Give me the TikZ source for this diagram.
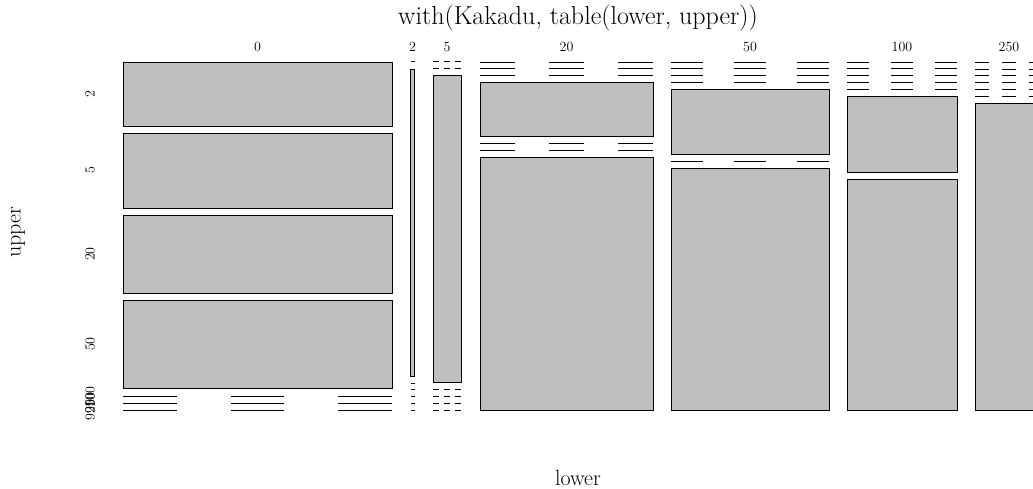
\documentclass[tikz,border=0pt]{standalone}
\usetikzlibrary{positioning}
\definecolor{mosaicgray}{RGB}{190,190,190}
\tikzset{filled cell/.style={draw=black,fill=mosaicgray,line width=0.9pt},}
\tikzset{empty cell/.style={draw=black,line width=0.9pt},}
\tikzset{tick label/.style={font=\fontsize{14}{14}\selectfont,inner sep=0pt},}
\tikzset{axis title/.style={font=\fontsize{22}{22}\selectfont,inner sep=0pt},}
\tikzset{main title/.style={font=\fontsize{26}{26}\selectfont,inner sep=0pt},}
% empty cell of the mosaic: three short pieces between x=#1 and x=#2 at height #3
\newcommand{\emptycell}[3]{%
  \foreach \k in {0,2,4}
    {\draw[empty cell] ({#1+\k*(#2-#1)/5},#3) -- ({#1+(\k+1)*(#2-#1)/5},#3);}}

\begin{document}
\begin{tikzpicture}[x=1pt,y=-1pt]
  \useasboundingbox (0,0) rectangle (1033,488);
  \clip (0,0) rectangle (1033,488);

  \node[main title] (title) at (578,18) {with(Kakadu, table(lower, upper))};
  \node[axis title] (xlab) at (578,478) {lower};
  \node[axis title,rotate=90] (ylab) at (18,232) {upper};

  \foreach \name/\xpos in {0/257.5,2/412.5,5/447,20/566.5,50/750,100/902,250/1009}
    \node[tick label] (low-\name) at (\xpos,47) {\name};
  \foreach \name/\ypos in {2/94,5/170,20/254,50/344,100/397,250/403,999/410}
    \node[tick label,rotate=90] (up-\name) at (90,\ypos) {\name};

  % lower = 0
  \draw[filled cell] (123,62) rectangle (392,126);
  \draw[filled cell] (123,133) rectangle (392,208);
  \draw[filled cell] (123,215) rectangle (392,293);
  \draw[filled cell] (123,300) rectangle (392,388);
  \foreach \ypos in {396,403,410} {\emptycell{123}{392}{\ypos}}

  % lower = 2 (too thin for three pieces)
  \draw[filled cell] (410.5,69) rectangle (414.5,376);
  \foreach \ypos in {61,383,389,396,403,410}
    \draw[empty cell] (410.5,\ypos) -- (414.5,\ypos);

  % lower = 5
  \foreach \ypos in {61,68} {\emptycell{433}{461}{\ypos}}
  \draw[filled cell] (433,75) rectangle (461,382);
  \foreach \ypos in {389,396,403,410} {\emptycell{433}{461}{\ypos}}

  % lower = 20
  \foreach \ypos in {62,68,75} {\emptycell{480}{653}{\ypos}}
  \draw[filled cell] (480,82) rectangle (653,136);
  \foreach \ypos in {143,150} {\emptycell{480}{653}{\ypos}}
  \draw[filled cell] (480,157) rectangle (653,410);

  % lower = 50
  \foreach \ypos in {62,68,75,82} {\emptycell{671}{829}{\ypos}}
  \draw[filled cell] (671,89) rectangle (829,154);
  \emptycell{671}{829}{161}
  \draw[filled cell] (671,168) rectangle (829,410);

  % lower = 100
  \foreach \ypos in {62,68,75,82,89} {\emptycell{847}{957}{\ypos}}
  \draw[filled cell] (847,96) rectangle (957,172);
  \draw[filled cell] (847,179) rectangle (957,410);

  % lower = 250
  \foreach \ypos in {62,69,75,82,89,96} {\emptycell{975}{1043}{\ypos}}
  \draw[filled cell] (975,103) rectangle (1043,410);
\end{tikzpicture}
\end{document}
